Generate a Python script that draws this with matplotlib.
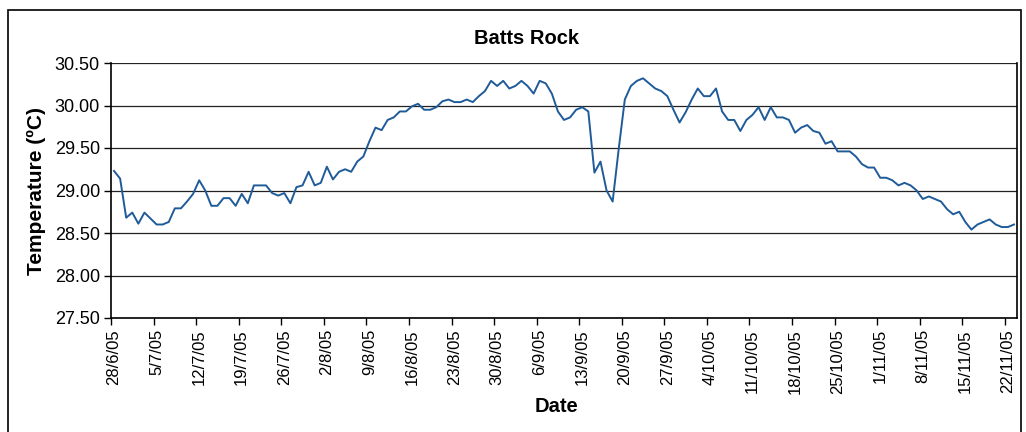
import pandas as pd
import matplotlib.pyplot as plt
import matplotlib.patches as mpatches
import numpy as np

plt.rcParams['font.family'] = ['Liberation Sans', 'DejaVu Sans']

# daily temperatures, 28/6/05 - 23/11/05
start_date = '2005-06-28'
temps = [
    29.23, 29.14, 28.68, 28.74, 28.61, 28.74, 28.67, 28.60, 28.60, 28.63,
    28.79, 28.79, 28.87, 28.96, 29.12, 29.00, 28.82, 28.82, 28.91, 28.91,
    28.82, 28.96, 28.85, 29.06, 29.06, 29.06, 28.97, 28.94, 28.97, 28.85,
    29.04, 29.06, 29.22, 29.06, 29.09, 29.28, 29.13, 29.22, 29.25, 29.22,
    29.34, 29.40, 29.58, 29.74, 29.71, 29.83, 29.86, 29.93, 29.93, 29.99,
    30.02, 29.95, 29.95, 29.98, 30.05, 30.07, 30.04, 30.04, 30.07, 30.04,
    30.11, 30.17, 30.29, 30.23, 30.29, 30.20, 30.23, 30.29, 30.23, 30.14,
    30.29, 30.26, 30.14, 29.93, 29.83, 29.86, 29.95, 29.98, 29.93, 29.21,
    29.34, 29.00, 28.87, 29.49, 30.07, 30.23, 30.29, 30.32, 30.26, 30.20,
    30.17, 30.11, 29.95, 29.80, 29.92, 30.07, 30.20, 30.11, 30.11, 30.20,
    29.93, 29.83, 29.83, 29.70, 29.83, 29.89, 29.98, 29.83, 29.98, 29.86,
    29.86, 29.83, 29.68, 29.74, 29.77, 29.70, 29.68, 29.55, 29.58, 29.46,
    29.46, 29.46, 29.40, 29.31, 29.27, 29.27, 29.15, 29.15, 29.12, 29.06,
    29.09, 29.06, 29.00, 28.90, 28.93, 28.90, 28.87, 28.78, 28.72, 28.75,
    28.63, 28.54, 28.60, 28.63, 28.66, 28.60, 28.57, 28.57, 28.60,
]
y_ticks = [27.5, 28.0, 28.5, 29.0, 29.5, 30.0, 30.5]

dates = pd.date_range(start_date, periods=len(temps), freq='D')
n = len(temps)
x = np.arange(n) + 0.5

fig = plt.figure(figsize=(10.26, 4.32), dpi=100)
ax = fig.add_axes([111 / 1026, 1 - 318 / 432, 906 / 1026, 255 / 432])

# outer chart border
fig.patches.append(mpatches.Rectangle((8 / 1026, -0.05), 1013 / 1026, 1 - 10 / 432 + 0.05,
                                      transform=fig.transFigure, fill=False,
                                      edgecolor='black', linewidth=1.2))

ax.plot(x, temps, color='#1f5b99', linewidth=1.4)

ax.set_xlim(0, n)
ax.set_ylim(27.5, 30.5)
ax.set_yticks(y_ticks)
ax.set_yticklabels([f'{v:.2f}' for v in y_ticks], fontsize=13)
ax.yaxis.grid(True, color='#222222', linewidth=0.9)
ax.set_axisbelow(True)

# tick marks at category edges, labels at category centres
major = np.arange(0, n, 7)
ax.set_xticks(major)
ax.set_xticklabels([])
ax.set_xticks(major + 0.5, minor=True)
ax.set_xticklabels([f'{d.day}/{d.month}/05' for d in dates[major]], minor=True,
                   rotation=90, fontsize=12)
ax.tick_params(axis='x', which='major', direction='out', length=5, width=1)
ax.tick_params(axis='x', which='minor', length=0, pad=8)
ax.tick_params(axis='y', direction='out', length=5, width=1, pad=3)

ax.spines['top'].set_visible(False)
for s in ['left', 'bottom', 'right']:
    ax.spines[s].set_linewidth(1.2)
    ax.spines[s].set_color('black')

fig.text(527 / 1026, 1 - 38 / 432, 'Batts Rock', ha='center', va='center',
         fontsize=14.5, fontweight='bold')
fig.text(36 / 1026, 1 - 191 / 432, 'Temperature (ºC)', ha='center', va='center',
         rotation=90, fontsize=15, fontweight='bold')
fig.text(556 / 1026, 1 - 407 / 432, 'Date', ha='center', va='center',
         fontsize=14.5, fontweight='bold')

fig.savefig('out.png', dpi=100)
